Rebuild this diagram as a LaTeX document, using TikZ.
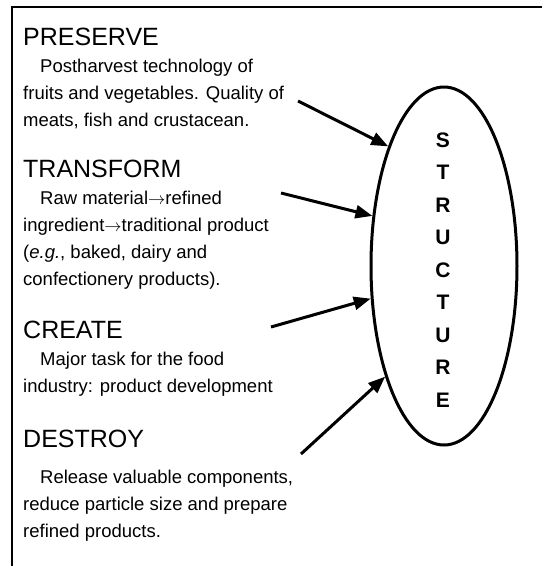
\documentclass[tikz,border=0pt]{standalone}
\usepackage{fontspec}
\setmainfont{Liberation Sans}
\usetikzlibrary{arrows.meta, shapes.geometric, positioning}
\newcommand*{\yields}{$\rightarrow$}

\begin{document}
\begin{tikzpicture}[
      x=1pt, y=-1pt, >={Triangle[length=17pt,width=13pt]},
      heading/.style={anchor=base west, inner sep=0pt, font=\fontsize{25}{29}\selectfont},
      body/.style={anchor=base west, inner sep=0pt, align=left, font=\fontsize{18.5}{27}\selectfont},
      feed/.style={->, line width=3pt}
      ]
      \useasboundingbox (0,0) rectangle (542,566);
      \draw[line width=1.6pt] (12,566) -- (12,7) -- (542,7);

      % the four operations (body nodes sit on their last line)
      \node[heading] (preserve)  at (23,45)  {PRESERVE};
      \node[body]    (preserveT) at (23,126) {\hspace*{17pt}Postharvest technology of\\fruits and vegetables. Quality of\\meats, fish and crustacean.};
      \node[heading] (transform)  at (23,177) {TRANSFORM};
      \node[body]    (transformT) at (23,285) {\hspace*{17pt}Raw material\yields refined\\ingredient\yields traditional product\\(\textit{e.g.}, baked, dairy and\\confectionery products).};
      \node[heading] (create)  at (23,338) {CREATE};
      \node[body]    (createT) at (23,392) {\hspace*{17pt}Major task for the food\\industry: product development};
      \node[heading] (destroy)  at (23,447) {DESTROY};
      \node[body]    (destroyT) at (23,537) {\hspace*{17pt}Release valuable components,\\reduce particle size and prepare\\refined products.};

      % structure
      \node[draw, ellipse, line width=3pt, inner sep=0pt, minimum width=146pt, minimum height=358pt] (structure) at (444,266) {};
      \node[anchor=base, inner sep=0pt, align=center, font=\fontsize{21}{32.5}\selectfont\bfseries] (letters) at (443,407) {S\\T\\R\\U\\C\\T\\U\\R\\E};

      \coordinate (p1) at (298,101);
      \coordinate (p2) at (281,193);
      \coordinate (p3) at (271,327);
      \coordinate (p4) at (301,454);
      \draw[feed] (p1) -- (structure.115);
      \draw[feed] (p2) -- (structure.145);
      \draw[feed] (p3) -- (structure.204);
      \draw[feed] (p4) -- (structure.242);
\end{tikzpicture}
\end{document}
